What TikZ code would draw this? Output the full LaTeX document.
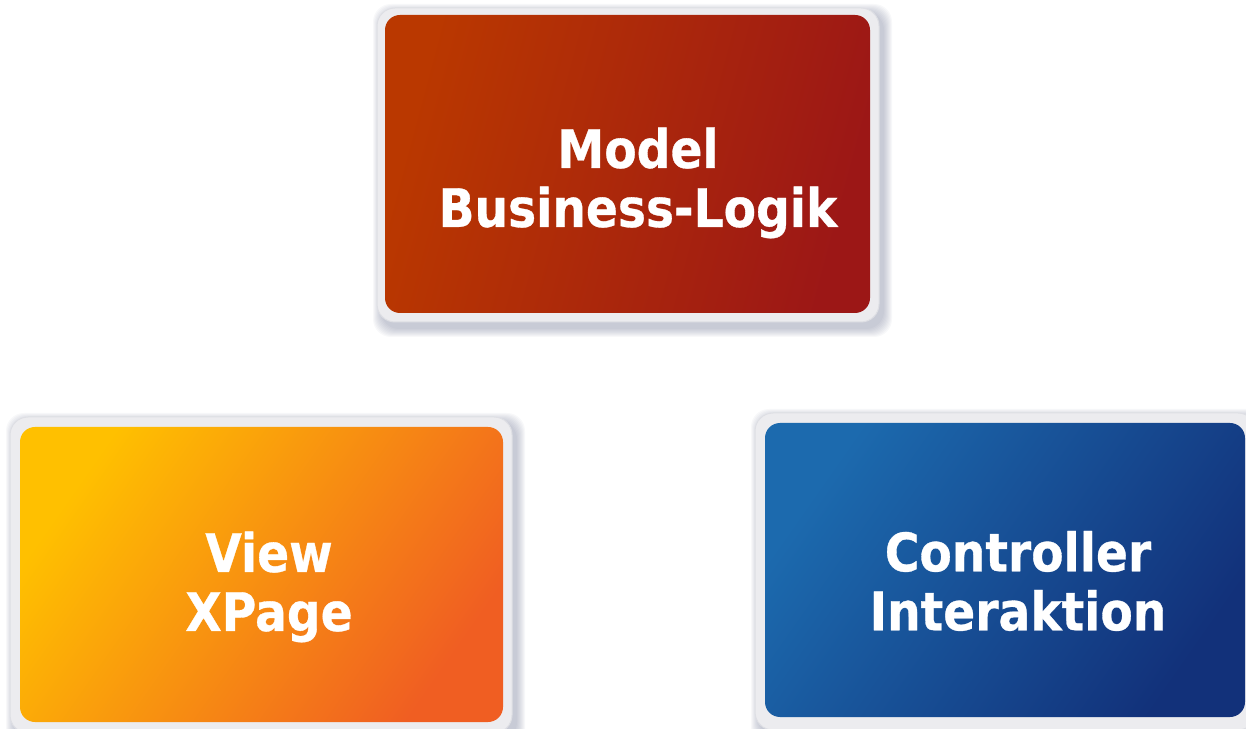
\documentclass[tikz,border=0pt]{standalone}
\usepackage{fontspec}
\newfontfamily\cardfont[FakeStretch=0.89,FakeBold=0.6]{DejaVu Sans}
\definecolor{modelA}{HTML}{BA3800}
\definecolor{modelB}{HTML}{9C1716}
\definecolor{viewA}{HTML}{FFC000}
\definecolor{viewB}{HTML}{F05E22}
\definecolor{ctrlA}{HTML}{1C6AAE}
\definecolor{ctrlB}{HTML}{12317A}
\definecolor{framecol}{HTML}{ECECEF}
\definecolor{frameedge}{HTML}{DEDFE4}
\definecolor{shadowc}{HTML}{6E7592}
\newcommand\mvcshadow[4]{%
  \foreach \i in {0,...,8}{%
    \fill[shadowc,opacity=0.05,rounded corners=18pt]
      (#1+4-\i,#2-7-\i) rectangle (#3+5+\i,#4-4+\i);}}
\begin{document}
\begin{tikzpicture}[x=1pt,y=1pt,
  cardframe/.style={fill=framecol,draw=frameedge,line width=1pt,rounded corners=18pt,inner sep=0pt},
  cardbox/.style={rounded corners=15pt,inner sep=0pt},
  cardtext/.style={text=white,align=center,inner sep=0pt,
    font=\cardfont\bfseries\fontsize{53}{59}\selectfont}]
\useasboundingbox (0,0) rectangle (1246,728);
% shadows
\mvcshadow{377}{406}{879}{720}
\mvcshadow{10}{-5}{512}{311}
\mvcshadow{755}{-2}{1256}{315}
% Model
\node[cardframe,minimum width=502pt,minimum height=314pt] (modelframe) at (628,563) {};
\node[cardbox,minimum width=485pt,minimum height=298pt,
  left color=modelA,right color=modelB,shading angle=75] (model) at (627.5,564) {};
\node[cardtext] (modeltext) at (638,545) {Model\\Business-Logik};
% View
\node[cardframe,minimum width=502pt,minimum height=316pt] (viewframe) at (261,153) {};
\node[cardbox,minimum width=483pt,minimum height=295pt,
  left color=viewA,right color=viewB,shading angle=55] (view) at (261.5,153.5) {};
\node[cardtext] (viewtext) at (269,141) {View\\XPage};
% Controller
\node[cardframe,minimum width=501pt,minimum height=317pt] (ctrlframe) at (1005.5,156.5) {};
\node[cardbox,minimum width=480pt,minimum height=294pt,
  left color=ctrlA,right color=ctrlB,shading angle=55] (ctrl) at (1005,158) {};
\node[cardtext] (ctrltext) at (1018,147) {Controller\\Interaktion};
\end{tikzpicture}
\end{document}
